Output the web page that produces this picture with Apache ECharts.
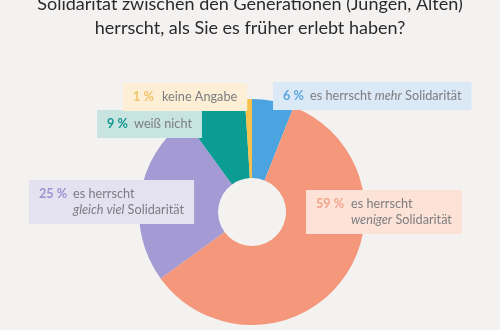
<!DOCTYPE html>
<html>
<head>
<meta charset="utf-8">
<script src="https://cdn.jsdelivr.net/npm/echarts@6/dist/echarts.min.js"></script>
<style>
html,body{margin:0;padding:0;background:#f3f2f0;}
#c{width:500px;height:330px;}
</style>
</head>
<body>
<div id="c"></div>
<script>
// Data
var categories = ['es herrscht mehr Solidarität', 'es herrscht weniger Solidarität', 'es herrscht gleich viel Solidarität', 'weiß nicht', 'keine Angabe'];
var values = [6, 59, 25, 9, 1];
// label text pieces per line: [plain, emphasised (italic), plain]
var labelLines = [
  [['es herrscht ', 'mehr', ' Solidarität']],
  [['es herrscht', '', ''], ['', 'weniger', ' Solidarität']],
  [['es herrscht', '', ''], ['', 'gleich viel', ' Solidarität']],
  [['weiß nicht', '', '']],
  [['keine Angabe', '', '']]
];
var titleText = 'Solidarität zwischen den Generationen (Jungen, Alten)\nherrscht, als Sie es früher erlebt haben?';

// Styles
var sliceColors = ['#4ba4df', '#f4977a', '#a49bd4', '#0b9c94', '#f6c04a'];
var boxColors = ['#dbe8f6', '#fde2d8', '#e4e1f1', '#c7e4e1', '#fdefd5'];
var pctColors = ['#5aa6dc', '#f0a68b', '#9d93d1', '#14978e', '#f1c36b'];
var boxPos = [[273, 82], [306, 190], [29, 180], [97, 110], [123, 83]];
var pctWidths = [27, 35, 34, 27, 29];

var FONT = 'Lato, "Noto Sans", sans-serif';
var FS = 12.7;

var rich = {};
sliceColors.forEach(function (c, i) {
  rich['p' + i] = {color: pctColors[i], fontSize: FS, fontFamily: FONT, fontWeight: 'bold', lineHeight: 16, width: pctWidths[i]};
  rich['g' + i] = {width: pctWidths[i], lineHeight: 16, fontSize: FS};
});
rich.t = {color: '#7d7d80', fontSize: FS, fontFamily: FONT, lineHeight: 16};
rich.i = {color: '#7d7d80', fontSize: FS, fontFamily: FONT, fontStyle: 'italic', lineHeight: 16};

function fmt(params) {
  var i = params.dataIndex;
  var v = values[i];
  var out = [];
  labelLines[i].forEach(function (ln, k) {
    var s = k === 0 ? '{p' + i + '|' + v + ' %}' : '{g' + i + '| }';
    if (ln[0]) s += '{t|' + ln[0] + '}';
    if (ln[1]) s += '{i|' + ln[1] + '}';
    if (ln[2]) s += '{t|' + ln[2] + '}';
    out.push(s);
  });
  return out.join('\n');
}

var data = values.map(function (v, i) {
  return {
    name: categories[i],
    value: v,
    itemStyle: {color: sliceColors[i]},
    label: {backgroundColor: boxColors[i]}
  };
});

var chart = echarts.init(document.getElementById('c'), null, {renderer: 'canvas'});
chart.setOption({
  backgroundColor: '#f3f2f0',
  animation: false,
  title: {
    text: titleText,
    left: 'center',
    top: -8,
    padding: 0,
    textStyle: {fontFamily: FONT, fontSize: 18, fontWeight: 'normal', color: '#2a2a2c', lineHeight: 24, align: 'center'}
  },
  series: [{
    type: 'pie',
    center: [252, 212],
    radius: [34, 113],
    startAngle: 90,
    clockwise: true,
    avoidLabelOverlap: false,
    silent: true,
    label: {
      show: true,
      position: 'outside',
      formatter: fmt,
      rich: rich,
      padding: [6, 10, 6, 10],
      fontFamily: FONT,
      fontSize: FS,
      lineHeight: 16
    },
    labelLine: {show: false},
    labelLayout: function (p) {
      var bp = boxPos[p.dataIndex];
      return {x: bp[0], y: bp[1], align: 'left', verticalAlign: 'top', hideOverlap: false};
    },
    data: data
  }]
});
</script>
</body>
</html>
